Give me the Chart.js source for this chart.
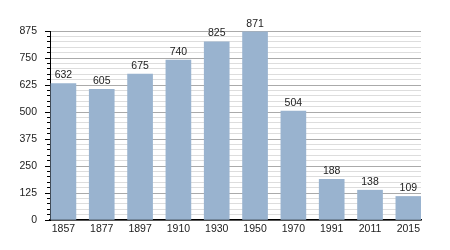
<!DOCTYPE html>
<html>
<head>
<meta charset="utf-8">
<script src="https://cdn.jsdelivr.net/npm/chart.js@4/dist/chart.umd.min.js"></script>
<style>
  html, body { margin: 0; padding: 0; background: #fff; }
  #wrap { width: 450px; height: 250px; }
</style>
</head>
<body>
<div id="wrap"><canvas id="c" width="450" height="250"></canvas></div>
<script>
const years = ['1857', '1877', '1897', '1910', '1930', '1950', '1970', '1991', '2011', '2015'];
const population = [632, 605, 675, 740, 825, 871, 504, 188, 138, 109];
const yMajorStep = 125;
const yMinorStep = 25;
const yMax = 875;

const FONT = 'Liberation Sans, Arial, Helvetica, sans-serif';

const valueLabels = {
  id: 'valueLabels',
  afterDatasetsDraw(chart) {
    const ctx = chart.ctx;
    const meta = chart.getDatasetMeta(0);
    ctx.save();
    ctx.font = '10.5px ' + FONT;
    ctx.fillStyle = '#222';
    ctx.textAlign = 'center';
    ctx.textBaseline = 'bottom';
    meta.data.forEach((bar, i) => {
      ctx.fillText(String(population[i]), bar.x, bar.y - 3);
    });
    ctx.restore();
  }
};

new Chart(document.getElementById('c'), {
  type: 'bar',
  data: {
    datasets: [{
      data: population.map((v, i) => ({ x: i, y: v })),
      backgroundColor: '#99b3cf',
      borderWidth: 0,
      barThickness: 25
    }]
  },
  options: {
    responsive: false,
    animation: false,
    devicePixelRatio: 1,
    layout: { padding: { left: 0, right: 29, top: 31, bottom: 0 } },
    plugins: { legend: { display: false }, tooltip: { enabled: false } },
    scales: {
      x: {
        type: 'linear',
        offset: false,
        min: -0.35,
        max: 9.33,
        afterBuildTicks(scale) {
          scale.ticks = years.map((_, i) => ({ value: i }));
        },
        afterFit(scale) { scale.height = 30; },
        grid: { display: true, drawOnChartArea: false, drawTicks: false, offset: false },
        border: { display: true, color: '#000', width: 1.6 },
        ticks: {
          autoSkip: false,
          maxRotation: 0,
          padding: 3,
          color: '#222',
          font: { family: FONT, size: 10.5 },
          callback: (v) => years[v] !== undefined ? years[v] : ''
        }
      },
      y: {
        min: 0,
        max: yMax,
        afterFit(scale) { scale.width = 50; },
        grid: {
          color: (c) => (c.tick && c.tick.value % yMajorStep === 0) ? '#aaaaaa' : '#dddddd',
          lineWidth: 1,
          tickLength: 5,
          tickColor: '#000',
          tickBorderDash: (c) => (c.tick && c.tick.value % yMajorStep === 0) ? [] : [0, 2, 3, 20]
        },
        border: { display: true, color: '#000', width: 1 },
        ticks: {
          stepSize: yMinorStep,
          autoSkip: false,
          padding: 8,
          color: '#222',
          font: { family: FONT, size: 10.5 },
          callback: (v) => (v % yMajorStep === 0) ? String(v) : ''
        }
      }
    }
  },
  plugins: [valueLabels]
});
</script>
</body>
</html>
